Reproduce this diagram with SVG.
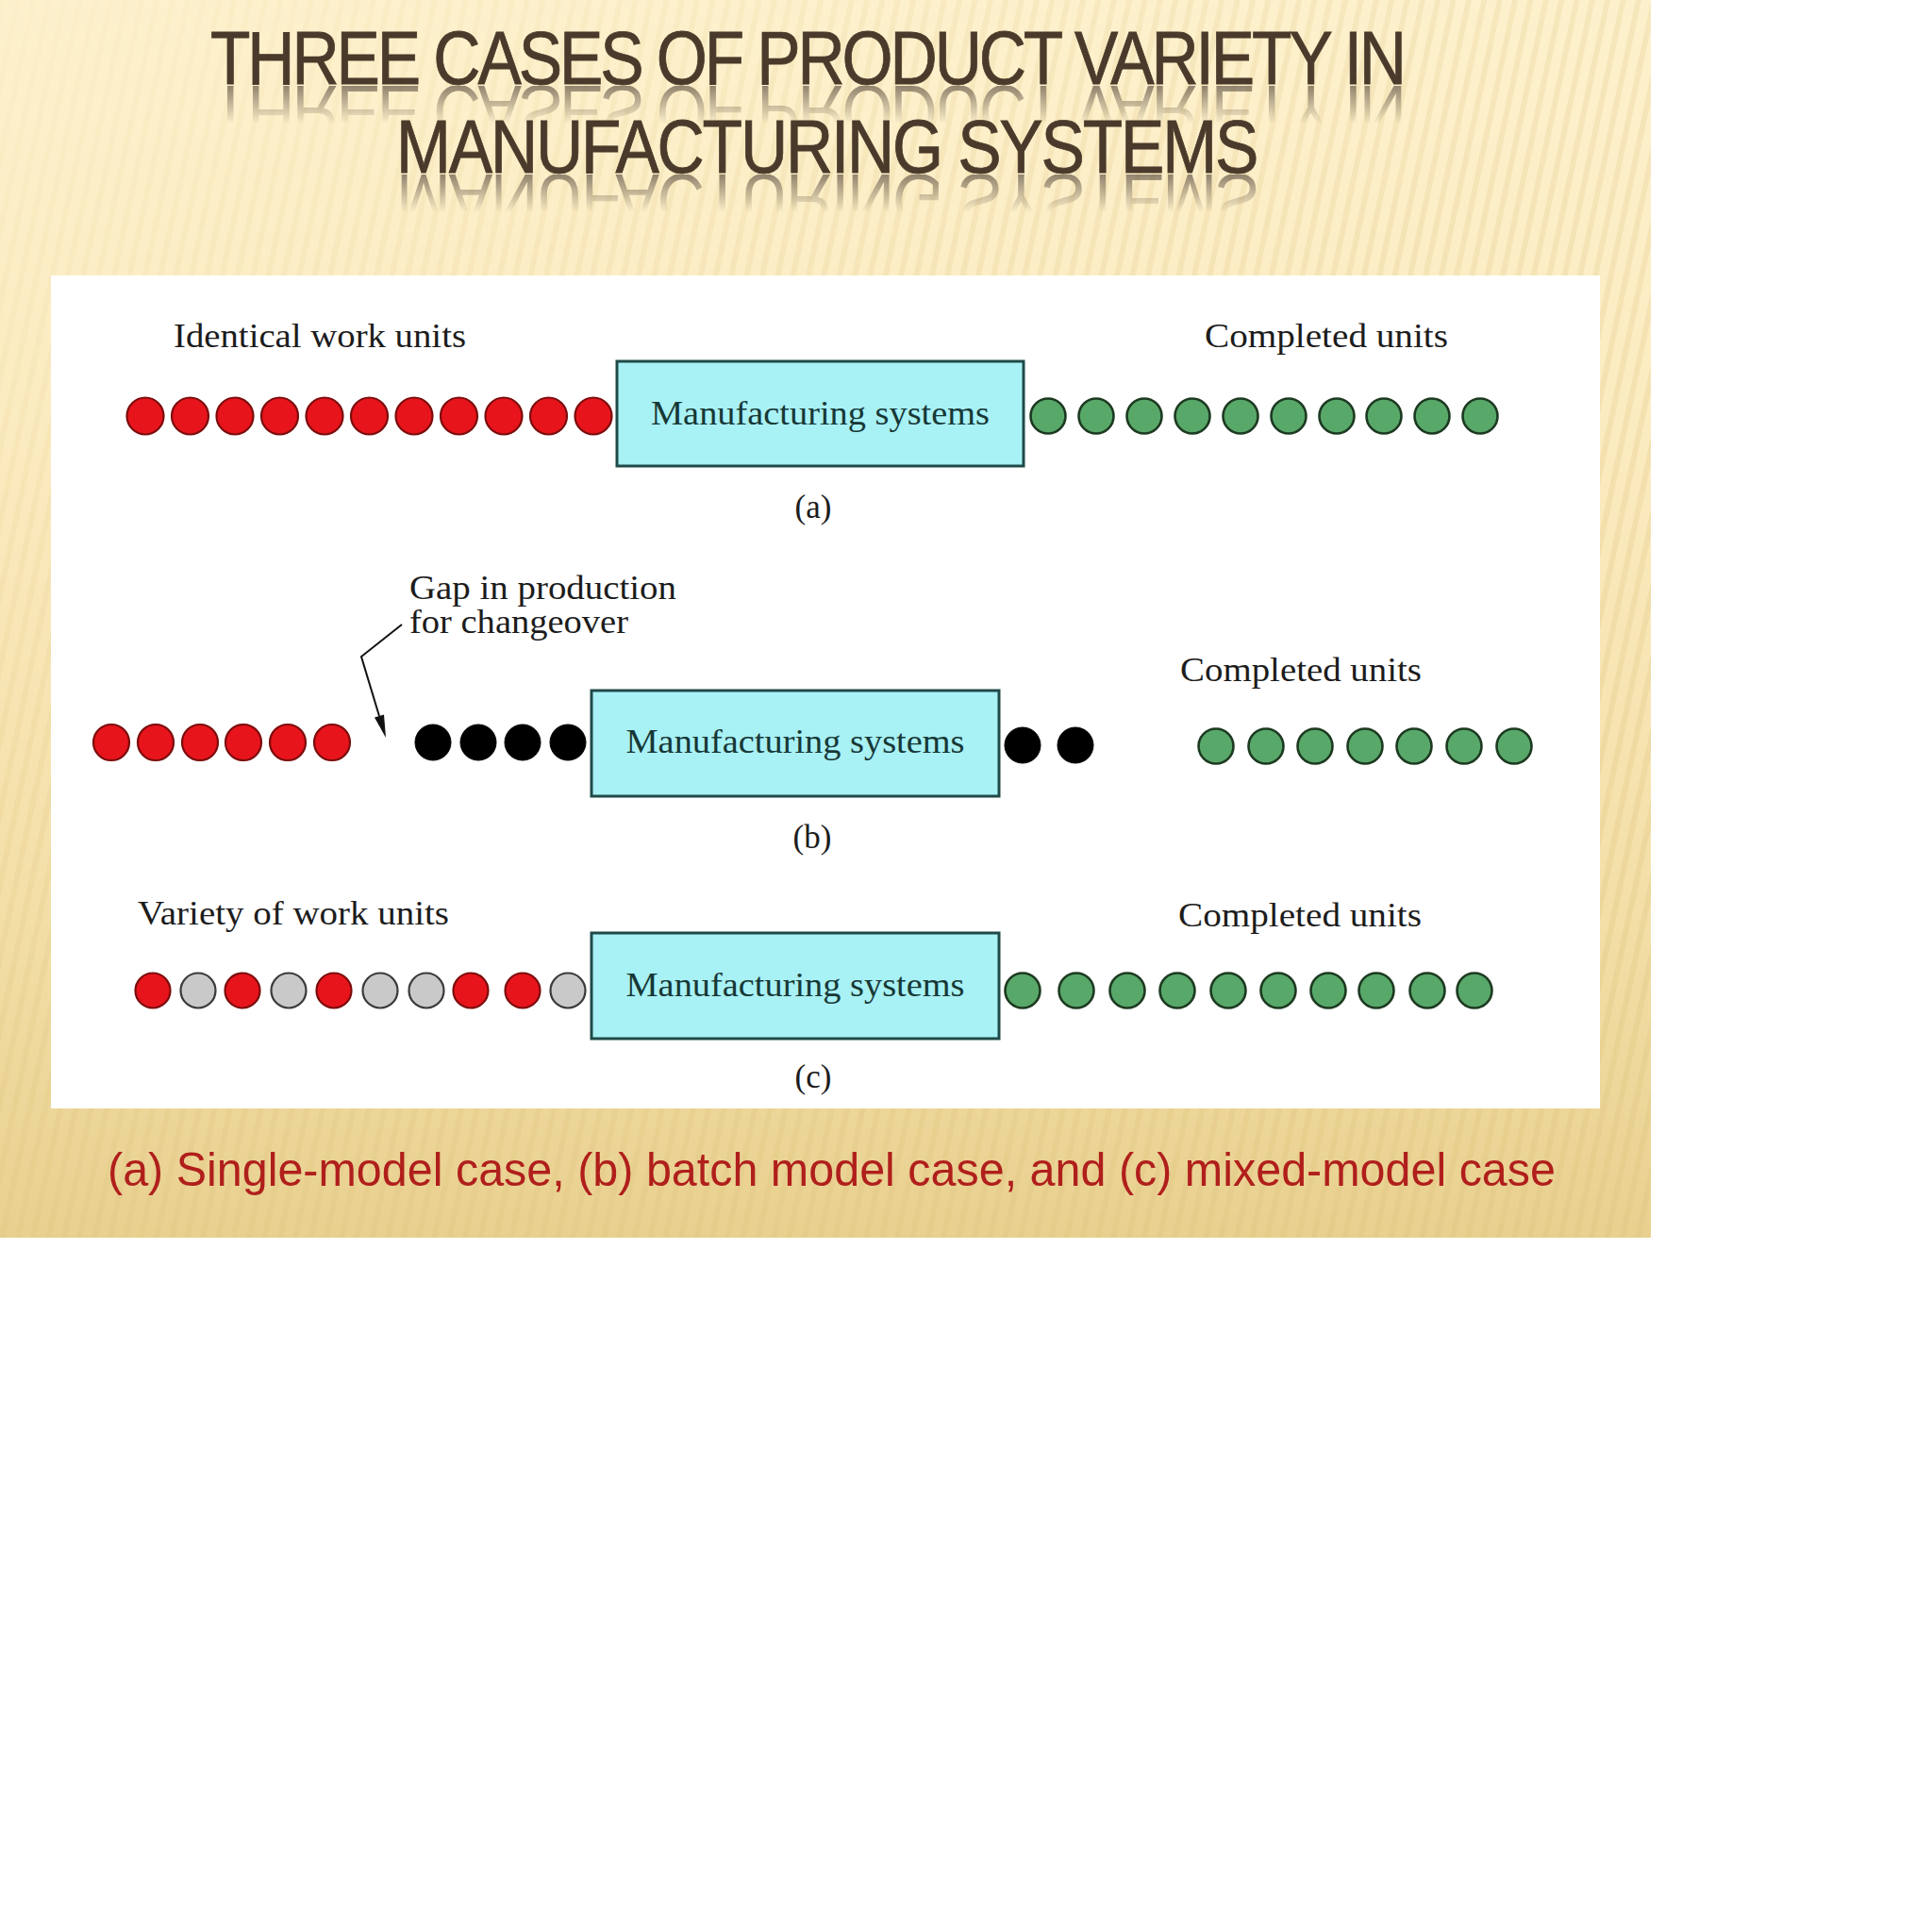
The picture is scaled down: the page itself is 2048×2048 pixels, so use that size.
<svg xmlns="http://www.w3.org/2000/svg" width="2048" height="2048" viewBox="0 0 2048 2048">
<defs>
<style>
.title{font-family:"Liberation Sans",Arial,sans-serif;font-size:79px;fill:#4a3a2b;stroke:#4a3a2b;stroke-width:0.8}
.refl{font-family:"Liberation Sans",Arial,sans-serif;font-size:79px;fill:#6e6050}
.lbl{font-family:"Liberation Serif","Times New Roman",serif;font-size:35px;fill:#1c1c1c}
.box{fill:#a8f1f5;stroke:#1f4a48;stroke-width:3}
.boxt{font-family:"Liberation Serif","Times New Roman",serif;font-size:35px;fill:#173836}
.cap{font-family:"Liberation Sans",Arial,sans-serif;font-size:50px;fill:#b01f1c}
.red{fill:#e8141c;stroke:#7c0c0c;stroke-width:2.2}
.grn{fill:#58a86a;stroke:#1d3a21;stroke-width:2.6}
.gry{fill:#c9c9c9;stroke:#3a3a3a;stroke-width:2.2}
.blk{fill:#000;stroke:#000;stroke-width:1}
.conn{fill:none;stroke:#111;stroke-width:2}
</style>
<linearGradient id="bg" x1="0" y1="0" x2="0" y2="1">
<stop offset="0" stop-color="#fdf1cd"/>
<stop offset="0.35" stop-color="#fbebc0"/>
<stop offset="0.75" stop-color="#f3dea6"/>
<stop offset="1" stop-color="#e8d08f"/>
</linearGradient>
<pattern id="stripes" width="16" height="60" patternUnits="userSpaceOnUse" patternTransform="rotate(12)">
<rect x="0" y="0" width="6" height="60" fill="#dcc07a"/>
</pattern>
<linearGradient id="stripeFade" x1="0" y1="0" x2="1" y2="1">
<stop offset="0" stop-color="#fff" stop-opacity="0.1"/>
<stop offset="0.4" stop-color="#fff" stop-opacity="0.55"/>
<stop offset="1" stop-color="#fff" stop-opacity="0.8"/>
</linearGradient>
<mask id="stripeMask"><rect x="0" y="0" width="1750" height="1312" fill="url(#stripeFade)"/></mask>
<linearGradient id="rf" x1="0" y1="0" x2="0" y2="1">
<stop offset="0" stop-color="#fff" stop-opacity="0.75"/>
<stop offset="1" stop-color="#fff" stop-opacity="0"/>
</linearGradient>
<mask id="rm1" maskUnits="userSpaceOnUse" x="0" y="0" width="2048" height="300"><rect x="0" y="91" width="2048" height="40" fill="url(#rf)"/></mask>
<mask id="rm2" maskUnits="userSpaceOnUse" x="0" y="0" width="2048" height="300"><rect x="0" y="185" width="2048" height="40" fill="url(#rf)"/></mask>
</defs>

<g id="background">
<rect x="0" y="0" width="2048" height="2048" fill="#ffffff"/>
<rect x="0" y="0" width="1750" height="1312" fill="url(#bg)"/>
<rect x="0" y="0" width="1750" height="1312" fill="url(#stripes)" opacity="0.35" mask="url(#stripeMask)"/>
</g>

<g id="title">
<text class="title" transform="translate(223,89) scale(0.88,1)" x="0" y="0" textLength="1441" lengthAdjust="spacing">THREE CASES OF PRODUCT VARIETY IN</text>
<text class="title" transform="translate(420,183) scale(0.88,1)" x="0" y="0" textLength="1039" lengthAdjust="spacing">MANUFACTURING SYSTEMS</text>
<g mask="url(#rm1)"><text class="refl" transform="translate(223,91) scale(0.88,-1)" x="0" y="0" textLength="1441" lengthAdjust="spacing">THREE CASES OF PRODUCT VARIETY IN</text></g>
<g mask="url(#rm2)"><text class="refl" transform="translate(420,185) scale(0.88,-1)" x="0" y="0" textLength="1039" lengthAdjust="spacing">MANUFACTURING SYSTEMS</text></g>
</g>

<g id="panel"><rect x="54" y="292" width="1642" height="883" fill="#ffffff"/></g>

<g id="case-a">
<text id="label-identical" class="lbl" x="184" y="368" textLength="310" lengthAdjust="spacingAndGlyphs">Identical work units</text>
<text id="label-completed-a" class="lbl" x="1277" y="368" textLength="258" lengthAdjust="spacingAndGlyphs">Completed units</text>
<g id="input-a">
<circle class="red" cx="154" cy="441" r="19.5"/><circle class="red" cx="201.5" cy="441" r="19.5"/><circle class="red" cx="249" cy="441" r="19.5"/><circle class="red" cx="296.5" cy="441" r="19.5"/><circle class="red" cx="344" cy="441" r="19.5"/><circle class="red" cx="391.5" cy="441" r="19.5"/><circle class="red" cx="439" cy="441" r="19.5"/><circle class="red" cx="486.5" cy="441" r="19.5"/><circle class="red" cx="534" cy="441" r="19.5"/><circle class="red" cx="581.5" cy="441" r="19.5"/><circle class="red" cx="629" cy="441" r="19.5"/>
</g>
<g id="box-a"><rect class="box" x="654" y="383" width="431" height="111"/><text class="boxt" x="869.5" y="450" text-anchor="middle" textLength="359" lengthAdjust="spacingAndGlyphs">Manufacturing systems</text></g>
<g id="output-a">
<circle class="grn" cx="1111" cy="441" r="18.5"/><circle class="grn" cx="1162" cy="441" r="18.5"/><circle class="grn" cx="1213" cy="441" r="18.5"/><circle class="grn" cx="1264" cy="441" r="18.5"/><circle class="grn" cx="1315" cy="441" r="18.5"/><circle class="grn" cx="1366" cy="441" r="18.5"/><circle class="grn" cx="1417" cy="441" r="18.5"/><circle class="grn" cx="1467" cy="441" r="18.5"/><circle class="grn" cx="1518" cy="441" r="18.5"/><circle class="grn" cx="1569" cy="441" r="18.5"/>
</g>
<text id="tag-a" class="lbl" x="862" y="549" text-anchor="middle">(a)</text>
</g>

<g id="case-b">
<text id="label-gap" class="lbl"><tspan x="434" y="635" textLength="283" lengthAdjust="spacingAndGlyphs">Gap in production</tspan><tspan x="434" y="671" textLength="232" lengthAdjust="spacingAndGlyphs">for changeover</tspan></text>
<text id="label-completed-b" class="lbl" x="1251" y="722" textLength="256" lengthAdjust="spacingAndGlyphs">Completed units</text>
<g id="input-b-red">
<circle class="red" cx="118" cy="787" r="19"/><circle class="red" cx="165" cy="787" r="19"/><circle class="red" cx="212" cy="787" r="19"/><circle class="red" cx="258" cy="787" r="19"/><circle class="red" cx="305" cy="787" r="19"/><circle class="red" cx="352" cy="787" r="19"/>
</g>
<g id="input-b-black">
<circle class="blk" cx="459" cy="787" r="19"/><circle class="blk" cx="507" cy="787" r="19"/><circle class="blk" cx="554" cy="787" r="19"/><circle class="blk" cx="602" cy="787" r="19"/>
</g>
<g id="box-b"><rect class="box" x="627" y="732" width="432" height="112"/><text class="boxt" x="843" y="798" text-anchor="middle" textLength="359" lengthAdjust="spacingAndGlyphs">Manufacturing systems</text></g>
<g id="output-b-black">
<circle class="blk" cx="1084" cy="790" r="19"/><circle class="blk" cx="1140" cy="790" r="19"/>
</g>
<g id="output-b">
<circle class="grn" cx="1289" cy="791" r="18.5"/><circle class="grn" cx="1342" cy="791" r="18.5"/><circle class="grn" cx="1394" cy="791" r="18.5"/><circle class="grn" cx="1447" cy="791" r="18.5"/><circle class="grn" cx="1499" cy="791" r="18.5"/><circle class="grn" cx="1552" cy="791" r="18.5"/><circle class="grn" cx="1605" cy="791" r="18.5"/>
</g>
<text id="tag-b" class="lbl" x="861" y="899" text-anchor="middle">(b)</text>
</g>

<g id="case-c">
<text id="label-variety" class="lbl" x="146" y="980" textLength="330" lengthAdjust="spacingAndGlyphs">Variety of work units</text>
<text id="label-completed-c" class="lbl" x="1249" y="982" textLength="258" lengthAdjust="spacingAndGlyphs">Completed units</text>
<g id="input-c">
<circle class="red" cx="162" cy="1050" r="18.5"/><circle class="gry" cx="210" cy="1050" r="18.5"/><circle class="red" cx="257" cy="1050" r="18.5"/><circle class="gry" cx="306" cy="1050" r="18.5"/><circle class="red" cx="354" cy="1050" r="18.5"/><circle class="gry" cx="403" cy="1050" r="18.5"/><circle class="gry" cx="452" cy="1050" r="18.5"/><circle class="red" cx="499" cy="1050" r="18.5"/><circle class="red" cx="554" cy="1050" r="18.5"/><circle class="gry" cx="602" cy="1050" r="18.5"/>
</g>
<g id="box-c"><rect class="box" x="627" y="989" width="432" height="112"/><text class="boxt" x="843" y="1056" text-anchor="middle" textLength="359" lengthAdjust="spacingAndGlyphs">Manufacturing systems</text></g>
<g id="output-c">
<circle class="grn" cx="1084" cy="1050" r="18.5"/><circle class="grn" cx="1141" cy="1050" r="18.5"/><circle class="grn" cx="1195" cy="1050" r="18.5"/><circle class="grn" cx="1248" cy="1050" r="18.5"/><circle class="grn" cx="1302" cy="1050" r="18.5"/><circle class="grn" cx="1355" cy="1050" r="18.5"/><circle class="grn" cx="1408" cy="1050" r="18.5"/><circle class="grn" cx="1459" cy="1050" r="18.5"/><circle class="grn" cx="1513" cy="1050" r="18.5"/><circle class="grn" cx="1563" cy="1050" r="18.5"/>
</g>
<text id="tag-c" class="lbl" x="862" y="1153" text-anchor="middle">(c)</text>
</g>

<g id="connectors">
<path class="conn" d="M426,662 L383,696 L402,759"/>
<polygon points="409,782 397,760.5 407,757.5" fill="#111"/>
</g>

<g id="caption">
<text class="cap" x="114" y="1257" textLength="1535" lengthAdjust="spacingAndGlyphs">(a) Single-model case, (b) batch model case, and (c) mixed-model case</text>
</g>
</svg>
